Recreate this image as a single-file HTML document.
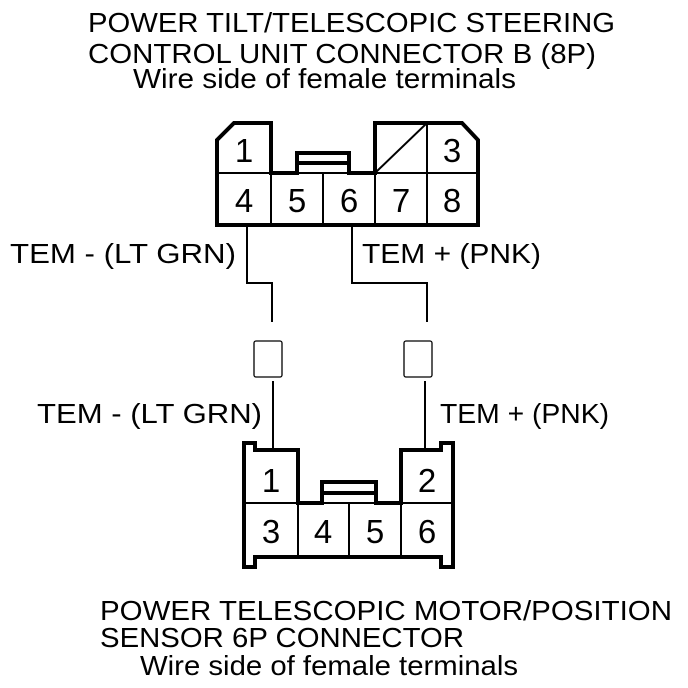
<!DOCTYPE html>
<html><head><style>html,body{margin:0;padding:0;background:#fff}svg{display:block}</style></head>
<body>
<svg width="688" height="688" viewBox="0 0 688 688" xmlns="http://www.w3.org/2000/svg" font-family="Liberation Sans, Arial, sans-serif" fill="#000" xml:space="preserve">
<g font-size="28">
<text x="88" y="32" textLength="527" lengthAdjust="spacingAndGlyphs">POWER TILT/TELESCOPIC STEERING</text>
<text x="88" y="63" textLength="508" lengthAdjust="spacingAndGlyphs">CONTROL UNIT CONNECTOR B (8P)</text>
<text x="133" y="88" textLength="383" lengthAdjust="spacingAndGlyphs">Wire side of female terminals</text>
<text x="10" y="263" textLength="226" lengthAdjust="spacingAndGlyphs">TEM -  (LT GRN)</text>
<text x="362" y="263" textLength="179" lengthAdjust="spacingAndGlyphs">TEM +  (PNK)</text>
<text x="37" y="423" textLength="225" lengthAdjust="spacingAndGlyphs">TEM -  (LT GRN)</text>
<text x="440" y="423" textLength="169" lengthAdjust="spacingAndGlyphs">TEM + (PNK)</text>
<text x="100" y="620" textLength="572" lengthAdjust="spacingAndGlyphs">POWER TELESCOPIC MOTOR/POSITION</text>
<text x="100" y="647" textLength="364" lengthAdjust="spacingAndGlyphs">SENSOR 6P CONNECTOR</text>
<text x="140" y="675" textLength="378" lengthAdjust="spacingAndGlyphs">Wire side of female terminals</text>
</g>
<g fill="none" stroke="#000" stroke-width="4" stroke-linejoin="miter">
<path d="M217,140 L234,123 L271,123 L271,173 L297,173 L297,153 L349,153 L349,173 L375,173 L375,123 L462,123 L478,140 L478,225 L217,225 Z"/>
<line x1="297" y1="163" x2="349" y2="163"/>
</g>
<g fill="none" stroke="#000" stroke-width="2">
<line x1="217" y1="173" x2="478" y2="173"/>
<line x1="271" y1="173" x2="271" y2="225"/>
<line x1="323" y1="173" x2="323" y2="225"/>
<line x1="375" y1="173" x2="375" y2="225"/>
<line x1="427" y1="123" x2="427" y2="225"/>
<line x1="375" y1="173" x2="427" y2="123"/>
<polyline points="247,225 247,283 272,283 272,322"/>
<polyline points="352,225 352,283 427,283 427,322"/>
<line x1="273" y1="381" x2="273" y2="451"/>
<line x1="425" y1="381" x2="425" y2="451"/>
<rect x="254" y="341" width="28" height="36" rx="2" stroke-width="1.3"/>
<rect x="404" y="341" width="28" height="36" rx="2" stroke-width="1.3"/>
<line x1="244" y1="503" x2="453" y2="503"/>
<line x1="349" y1="503" x2="349" y2="557"/>
<line x1="298" y1="503" x2="298" y2="557"/>
<line x1="401" y1="503" x2="401" y2="557"/>
</g>
<g fill="none" stroke="#000" stroke-width="4">
<path d="M244,443 L255,443 L255,450 L298,450 L298,503 L322,503 L322,482 L376,482 L376,503 L401,503 L401,450 L441,450 L441,443 L453,443 L453,567 L441,567 L441,557 L255,557 L255,567 L244,567 Z"/>
<line x1="322" y1="493" x2="376" y2="493"/>
</g>
<g font-size="33" text-anchor="middle">
<text x="244" y="162">1</text>
<text x="452" y="162">3</text>
<text x="244" y="212">4</text>
<text x="297" y="212">5</text>
<text x="349" y="212">6</text>
<text x="401" y="212">7</text>
<text x="452" y="212">8</text>
<text x="271" y="492">1</text>
<text x="427" y="492">2</text>
<text x="271" y="543">3</text>
<text x="323" y="543">4</text>
<text x="375" y="543">5</text>
<text x="427" y="543">6</text>
</g>
</svg>
</body></html>
